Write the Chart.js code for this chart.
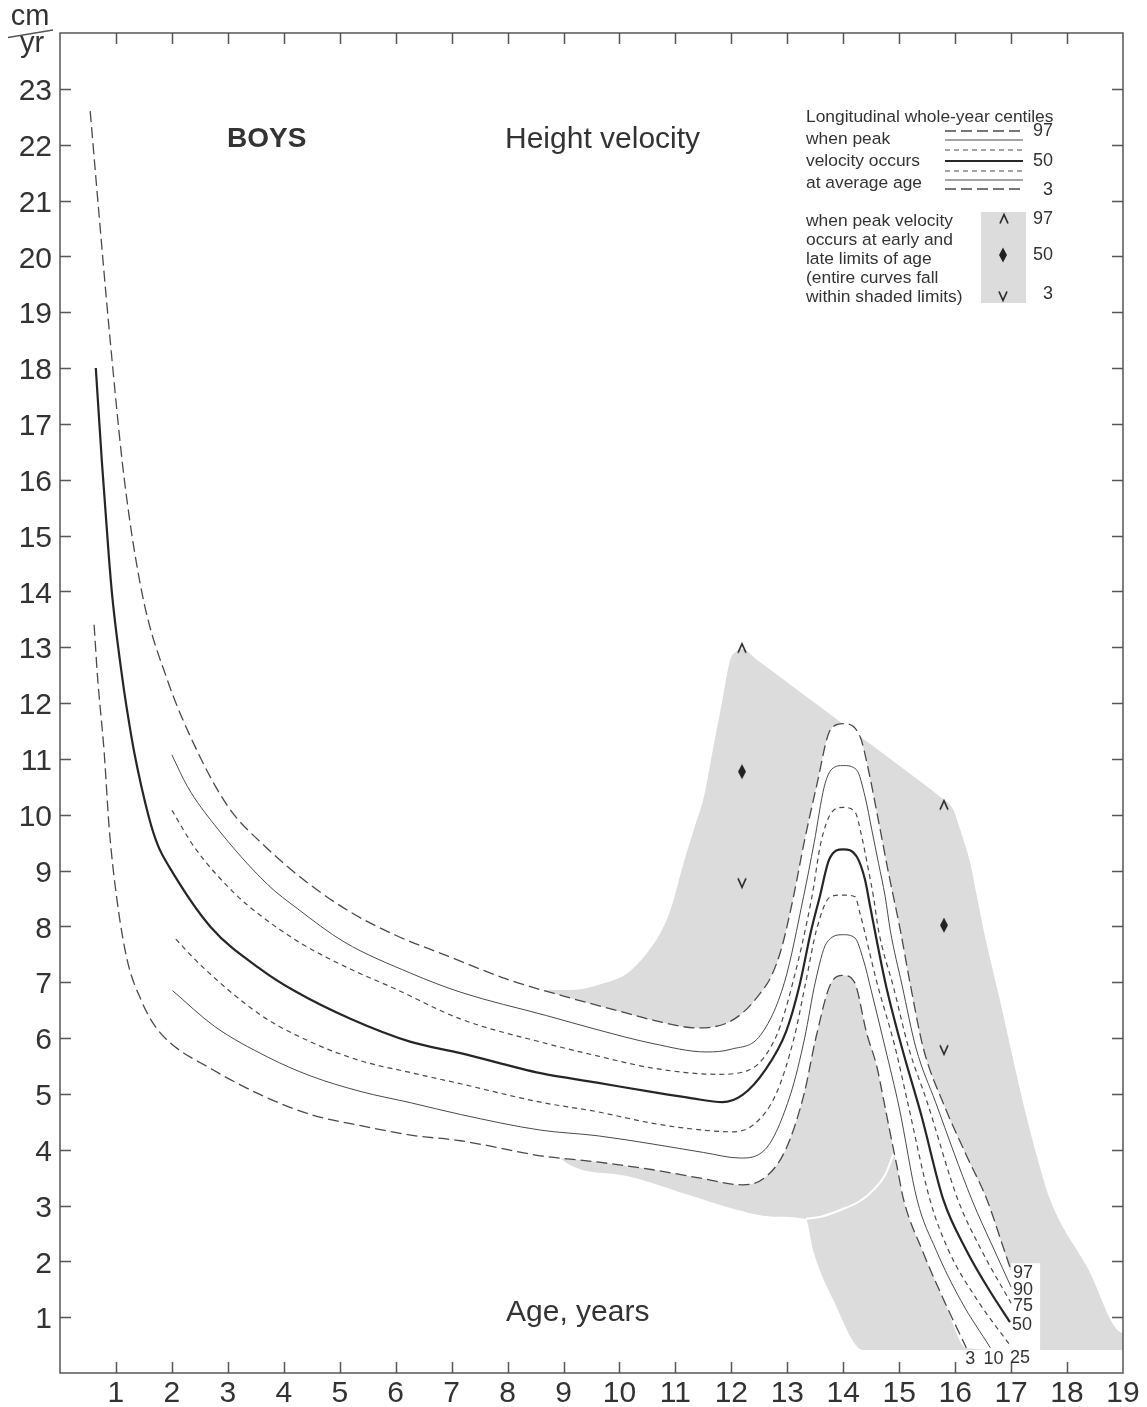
<!DOCTYPE html>
<html>
<head>
<meta charset="utf-8">
<title>Height velocity – boys</title>
<script src="https://cdn.jsdelivr.net/npm/chart.js"></script>
<style>
  body { margin: 0; background: #fff; }
  canvas { display: block; }
</style>
</head>
<body>
<canvas id="velocityChart" width="1147" height="1407"></canvas>
<script>
// axis ticks
const ageTicks = [1, 2, 3, 4, 5, 6, 7, 8, 9, 10, 11, 12, 13, 14, 15, 16, 17, 18, 19];
const velocityTicks = [1, 2, 3, 4, 5, 6, 7, 8, 9, 10, 11, 12, 13, 14, 15, 16, 17, 18, 19, 20, 21, 22, 23];

// longitudinal whole-year centiles, peak velocity at average age (age in years, cm/yr)
const age97 = [0.54, 0.67, 0.88, 1.15, 1.48, 1.92, 2.4, 3.0, 3.7, 4.4, 5.2, 6.0, 6.9, 8.0, 9.0, 10.0, 10.6, 11.4, 11.9, 12.2, 12.5, 12.72, 12.9, 13.11, 13.3, 13.52, 13.77, 14.0, 14.3, 14.45, 14.66, 14.81, 15.02, 15.2, 15.43, 15.78, 16.2, 16.57, 16.86, 17.0];
const vel97 = [22.6, 21.07, 18.68, 16.0, 13.9, 12.41, 11.25, 10.15, 9.4, 8.8, 8.25, 7.84, 7.48, 7.05, 6.75, 6.48, 6.32, 6.18, 6.26, 6.45, 6.78, 7.12, 7.62, 8.53, 9.5, 10.5, 11.52, 11.63, 11.4, 10.8, 9.73, 8.95, 7.93, 6.95, 5.82, 4.85, 3.9, 3.1, 2.25, 1.84];

const age90 = [2.0, 2.28, 2.76, 3.71, 4.24, 5.08, 6.27, 7.16, 8.7, 9.6, 10.6, 11.55, 12.0, 12.52, 12.95, 13.29, 13.48, 13.66, 13.8, 14.0, 14.24, 14.39, 14.51, 14.63, 14.75, 14.84, 15.05, 15.3, 15.65, 16.3, 16.7, 17.0];
const vel90 = [11.07, 10.5, 9.82, 8.75, 8.32, 7.72, 7.16, 6.82, 6.4, 6.15, 5.9, 5.75, 5.8, 6.05, 7.0, 8.53, 9.5, 10.5, 10.82, 10.88, 10.8, 10.32, 9.73, 9.13, 8.53, 7.93, 6.95, 5.82, 4.85, 3.1, 2.2, 1.54];

const age75 = [2.0, 2.4, 3.11, 3.59, 4.3, 5.2, 5.97, 7.16, 8.7, 9.6, 10.6, 11.75, 12.3, 12.81, 13.1, 13.44, 13.6, 13.8, 14.0, 14.21, 14.33, 14.45, 14.54, 14.63, 14.9, 15.17, 15.5, 16.05, 16.47, 17.0];
const vel75 = [10.08, 9.42, 8.6, 8.19, 7.7, 7.23, 6.89, 6.34, 5.9, 5.68, 5.46, 5.35, 5.42, 6.05, 7.0, 8.53, 9.5, 10.05, 10.13, 10.05, 9.61, 9.01, 8.53, 7.93, 6.9, 5.82, 4.85, 3.1, 2.2, 1.25];

const age50 = [0.64, 0.75, 0.875, 0.94, 1.12, 1.21, 1.33, 1.59, 1.75, 1.95, 2.7, 3.59, 4.18, 5.2, 6.27, 7.16, 8.59, 9.6, 10.6, 11.3, 11.84, 12.2, 12.6, 12.98, 13.22, 13.42, 13.58, 13.75, 14.0, 14.24, 14.39, 14.48, 14.75, 15.05, 15.4, 15.79, 16.2, 16.6, 16.98];
const vel50 = [18.0, 16.3, 14.6, 13.85, 12.4, 11.8, 11.1, 9.95, 9.45, 9.07, 7.98, 7.23, 6.85, 6.34, 5.93, 5.73, 5.37, 5.2, 5.03, 4.92, 4.85, 4.98, 5.42, 6.12, 6.95, 7.9, 8.53, 9.2, 9.38, 9.25, 8.83, 8.36, 7.0, 5.82, 4.6, 3.1, 2.2, 1.5, 0.91];

const age25 = [2.07, 2.52, 3.59, 4.48, 5.38, 6.27, 7.16, 8.59, 9.6, 10.6, 11.4, 12.0, 12.4, 12.8, 13.12, 13.33, 13.52, 13.77, 14.0, 14.21, 14.3, 14.6, 14.93, 15.15, 15.55, 15.88, 16.4, 17.0];
const vel25 = [7.77, 7.3, 6.41, 5.93, 5.59, 5.38, 5.18, 4.85, 4.68, 4.47, 4.36, 4.32, 4.45, 5.0, 6.0, 7.0, 7.93, 8.53, 8.56, 8.53, 8.23, 7.0, 5.82, 4.85, 3.1, 2.2, 1.3, 0.47];

const age10 = [2.01, 2.76, 3.71, 4.48, 5.38, 6.27, 7.16, 8.59, 9.6, 10.6, 11.5, 12.16, 12.6, 13.06, 13.31, 13.5, 13.7, 14.0, 14.21, 14.36, 14.5, 14.75, 15.0, 15.32, 15.66, 16.1, 16.63];
const vel10 = [6.85, 6.21, 5.66, 5.32, 5.04, 4.84, 4.63, 4.35, 4.25, 4.1, 3.95, 3.85, 4.0, 5.0, 6.0, 7.0, 7.7, 7.85, 7.79, 7.4, 6.85, 5.82, 4.75, 3.1, 2.2, 1.3, 0.45];

const age3 = [0.61, 0.67, 0.79, 0.88, 1.03, 1.21, 1.45, 1.66, 1.95, 2.7, 3.59, 4.48, 5.38, 6.27, 7.16, 8.59, 9.6, 10.6, 11.5, 12.2, 12.6, 12.97, 13.3, 13.51, 13.79, 14.0, 14.2, 14.42, 14.6, 14.72, 14.84, 14.96, 15.08, 15.41, 15.8, 16.2];
const vel3 = [13.4, 12.48, 11.11, 9.75, 8.39, 7.36, 6.68, 6.27, 5.93, 5.45, 4.98, 4.63, 4.43, 4.26, 4.16, 3.89, 3.78, 3.64, 3.48, 3.37, 3.5, 4.0, 5.0, 6.0, 7.0, 7.12, 7.0, 6.08, 5.49, 4.9, 4.29, 3.7, 3.1, 2.2, 1.3, 0.45];

// shaded limits: curves of early and late maturers fall inside
const shadeAge = [8.0, 8.6, 9.13, 9.72, 10.14, 10.49, 10.73, 10.91, 11.15, 11.35, 11.51, 11.68, 11.83, 11.98, 12.1, 12.19, 12.45, 13.95, 15.45, 15.73, 15.97, 16.09, 16.27, 16.39, 16.51, 16.8, 17.16, 17.43, 17.7, 18.36, 19.0, 19.0, 18.7, 14.6, 14.36, 13.82, 13.46, 13.33, 12.75, 12.0, 11.2, 10.0, 9.0, 8.5];
const shadeVel = [6.75, 6.86, 6.86, 6.98, 7.16, 7.52, 7.88, 8.29, 9.15, 9.8, 10.32, 11.22, 12.0, 12.77, 12.93, 12.97, 12.78, 11.66, 10.54, 10.32, 10.08, 9.73, 9.13, 8.53, 7.93, 6.68, 5.07, 4.0, 3.1, 1.9, 0.72, 0.41, 0.41, 0.41, 0.41, 1.31, 2.2, 2.76, 2.8, 2.95, 3.2, 3.55, 3.8, 5.0];

// white edge running through the lower shading
const edgeAge = [13.33, 13.6, 13.95, 14.3, 14.54, 14.75, 14.9];
const edgeVel = [2.76, 2.8, 2.92, 3.08, 3.28, 3.55, 3.93];

// peak markers, early (left) and late (right) maturers: 97, 50, 3
const peakAge = [12.19, 12.19, 12.19, 15.8, 15.8, 15.8];
const peakVel = [12.98, 10.77, 8.78, 10.17, 8.02, 5.79];
const peakKind = ['up', 'diamond', 'down', 'up', 'diamond', 'down'];

const ink = '#333333';
const pen = '#4a4a4a';
const shadeGrey = '#dcdcdc';
const FONT = "'Liberation Sans', Arial, Helvetica, sans-serif";
const longDash = [11, 5];
const shortDash = [5, 4];

const pts = (xs, ys) => xs.map((x, i) => ({ x: x, y: ys[i] }));

const centiles = [
  { label: '97', age: age97, vel: vel97, dash: longDash, width: 1.3, colour: pen },
  { label: '90', age: age90, vel: vel90, dash: [], width: 1, colour: pen },
  { label: '75', age: age75, vel: vel75, dash: shortDash, width: 1.2, colour: pen },
  { label: '50', age: age50, vel: vel50, dash: [], width: 2.2, colour: '#262626' },
  { label: '25', age: age25, vel: vel25, dash: shortDash, width: 1.2, colour: pen },
  { label: '10', age: age10, vel: vel10, dash: [], width: 1, colour: pen },
  { label: '3', age: age3, vel: vel3, dash: longDash, width: 1.3, colour: pen }
];
// where the lower end labels sit, relative to the curve end
const bottomLabelShift = { '3': 4, '10': 3, '25': 9 };

// small glyphs used as point styles
function glyph(kind) {
  const c = document.createElement('canvas');
  c.width = 12; c.height = 18;
  const g = c.getContext('2d');
  g.strokeStyle = '#2a2a2a'; g.fillStyle = '#222';
  g.lineWidth = 1.7;
  g.beginPath();
  if (kind === 'diamond') {
    g.moveTo(6, 1.5); g.lineTo(10, 9); g.lineTo(6, 16.5); g.lineTo(2, 9); g.closePath(); g.fill();
  } else if (kind === 'up') {
    g.moveTo(2, 13.5); g.lineTo(6, 4.5); g.lineTo(10, 13.5); g.stroke();
  } else {
    g.moveTo(2, 4.5); g.lineTo(6, 13.5); g.lineTo(10, 4.5); g.stroke();
  }
  return c;
}
const glyphs = { up: glyph('up'), diamond: glyph('diamond'), down: glyph('down') };

const baseVel = Math.min(...shadeVel);
// band between the 97th and 3rd centiles stays white
const bandPoints = pts(age97, vel97)
  .concat([{ x: age97[age97.length - 1], y: baseVel }])
  .concat(pts(age3, vel3).reverse());

const smooth = { cubicInterpolationMode: 'monotone', pointRadius: 0 };
const datasets = [
  Object.assign({ label: 'shade', data: pts(shadeAge, shadeVel), fill: 'shape', backgroundColor: shadeGrey,
    borderWidth: 0, borderColor: 'rgba(0,0,0,0)', order: 10 }, smooth),
  Object.assign({ label: 'band', data: bandPoints, fill: 'shape', backgroundColor: '#ffffff',
    borderWidth: 0, borderColor: 'rgba(0,0,0,0)', order: 9 }, smooth),
  Object.assign({ label: 'edge', data: pts(edgeAge, edgeVel), fill: false, borderColor: '#ffffff',
    borderWidth: 2, order: 8 }, smooth)
];
centiles.forEach(c => datasets.push(Object.assign({
  label: c.label, data: pts(c.age, c.vel), fill: false, borderColor: c.colour,
  borderWidth: c.width, borderDash: c.dash, order: 2
}, smooth)));
datasets.push({
  label: 'peaks', data: pts(peakAge, peakVel), showLine: false, order: 1,
  pointStyle: peakKind.map(k => glyphs[k]), pointRadius: 6
});

// frame with inward tick marks, centile labels and the text blocks
const chartDecor = {
  id: 'chartDecor',
  afterDatasetDraw(chart, args) {
    if (chart.data.datasets[args.index].label !== 'band') return;
    // white box behind the centile labels
    const { ctx, scales: { x, y } } = chart;
    const left = x.getPixelForValue(age97[age97.length - 1]);
    const top = y.getPixelForValue(vel97[vel97.length - 1]) - 7;
    const bottom = y.getPixelForValue(baseVel);
    ctx.save();
    ctx.fillStyle = '#ffffff';
    ctx.fillRect(left, top, 29, bottom - top + 1);
    ctx.restore();
  },
  afterDraw(chart) {
    const { ctx, chartArea: a, scales: { x, y } } = chart;
    ctx.save();
    ctx.strokeStyle = '#555';
    ctx.lineWidth = 1.5;
    ctx.strokeRect(a.left, a.top, a.right - a.left, a.bottom - a.top);
    ctx.beginPath();
    ageTicks.forEach(v => {
      if (v >= x.max) return;
      const px = Math.round(x.getPixelForValue(v)) + 0.5;
      ctx.moveTo(px, a.bottom); ctx.lineTo(px, a.bottom - 11);
      ctx.moveTo(px, a.top); ctx.lineTo(px, a.top + 11);
    });
    velocityTicks.forEach(v => {
      const py = Math.round(y.getPixelForValue(v)) + 0.5;
      ctx.moveTo(a.left, py); ctx.lineTo(a.left + 11, py);
      ctx.moveTo(a.right, py); ctx.lineTo(a.right - 11, py);
    });
    ctx.stroke();

    // unit
    ctx.fillStyle = ink;
    ctx.textAlign = 'center';
    ctx.textBaseline = 'alphabetic';
    ctx.font = '29px ' + FONT;
    ctx.fillText('cm', 30, 25);
    ctx.fillText('yr', 32, 52);
    ctx.beginPath();
    ctx.moveTo(8, 37.5); ctx.lineTo(53, 30);
    ctx.stroke();

    // titles
    ctx.textAlign = 'left';
    ctx.font = 'bold 28px ' + FONT;
    ctx.fillText('BOYS', 227, 147);
    ctx.font = '30px ' + FONT;
    ctx.fillText('Height velocity', 505, 148);
    ctx.fillText('Age, years', 506, 1321);

    // centile end labels
    ctx.font = '18px ' + FONT;
    ctx.textBaseline = 'middle';
    centiles.forEach(c => {
      const ex = x.getPixelForValue(c.age[c.age.length - 1]);
      const ey = y.getPixelForValue(c.vel[c.vel.length - 1]);
      if (c.label in bottomLabelShift) {
        ctx.textAlign = 'center';
        ctx.fillText(c.label, ex + bottomLabelShift[c.label], ey + 11);
      } else {
        ctx.textAlign = 'left';
        ctx.fillText(c.label, ex + 2, ey + 3);
      }
    });

    // key
    ctx.textAlign = 'left';
    ctx.textBaseline = 'alphabetic';
    ctx.font = '17.4px ' + FONT;
    ctx.fillText('Longitudinal whole-year centiles', 806, 122);
    ctx.fillText('when peak', 806, 144);
    ctx.fillText('velocity occurs', 806, 166);
    ctx.fillText('at average age', 806, 188);
    const keyY = [131, 140, 150, 161, 171, 180, 189];
    centiles.forEach((c, i) => {
      ctx.beginPath();
      ctx.setLineDash(c.dash);
      ctx.strokeStyle = c.colour;
      ctx.lineWidth = c.width;
      ctx.moveTo(945, keyY[i]); ctx.lineTo(1023, keyY[i]);
      ctx.stroke();
    });
    ctx.setLineDash([]);
    ctx.textAlign = 'right';
    ctx.textBaseline = 'middle';
    ctx.font = '18px ' + FONT;
    ctx.fillText('97', 1053, 131);
    ctx.fillText('50', 1053, 161);
    ctx.fillText('3', 1053, 190);

    ctx.textAlign = 'left';
    ctx.textBaseline = 'alphabetic';
    ctx.font = '17.4px ' + FONT;
    ['when peak velocity', 'occurs at early and', 'late limits of age',
     '(entire curves fall', 'within shaded limits)'].forEach((t, i) => {
      ctx.fillText(t, 806, 226 + i * 19);
    });
    ctx.fillStyle = shadeGrey;
    ctx.fillRect(981, 212, 45, 91);
    ctx.drawImage(glyphs.up, 998, 210);
    ctx.drawImage(glyphs.diamond, 997, 246);
    ctx.drawImage(glyphs.down, 997, 287);
    ctx.fillStyle = ink;
    ctx.textAlign = 'right';
    ctx.textBaseline = 'middle';
    ctx.font = '18px ' + FONT;
    ctx.fillText('97', 1053, 219);
    ctx.fillText('50', 1053, 255);
    ctx.fillText('3', 1053, 294);
    ctx.restore();
  }
};

new Chart(document.getElementById('velocityChart').getContext('2d'), {
  type: 'line',
  data: { datasets: datasets },
  options: {
    responsive: false,
    devicePixelRatio: 1,
    animation: false,
    events: [],
    layout: { padding: { top: 33, right: 24, left: 0, bottom: 0 } },
    plugins: { legend: { display: false }, tooltip: { enabled: false } },
    elements: { line: { borderCapStyle: 'butt' } },
    scales: {
      x: {
        type: 'linear', min: 0, max: 19,
        grid: { display: false, drawTicks: false },
        border: { display: false },
        ticks: {
          stepSize: 1, autoSkip: false, maxRotation: 0, padding: 3, color: ink,
          font: { family: FONT, size: 30 },
          callback: v => ageTicks.includes(v) ? String(v) : ''
        },
        afterFit: s => { s.height = 34; }
      },
      y: {
        type: 'linear', min: 0, max: 24,
        grid: { display: false, drawTicks: false },
        border: { display: false },
        ticks: {
          stepSize: 1, autoSkip: false, padding: 8, labelOffset: 3, color: ink,
          font: { family: FONT, size: 30 },
          callback: v => velocityTicks.includes(v) ? String(v) : ''
        },
        afterFit: s => { s.width = 60; }
      }
    }
  },
  plugins: [chartDecor]
});
</script>
</body>
</html>
